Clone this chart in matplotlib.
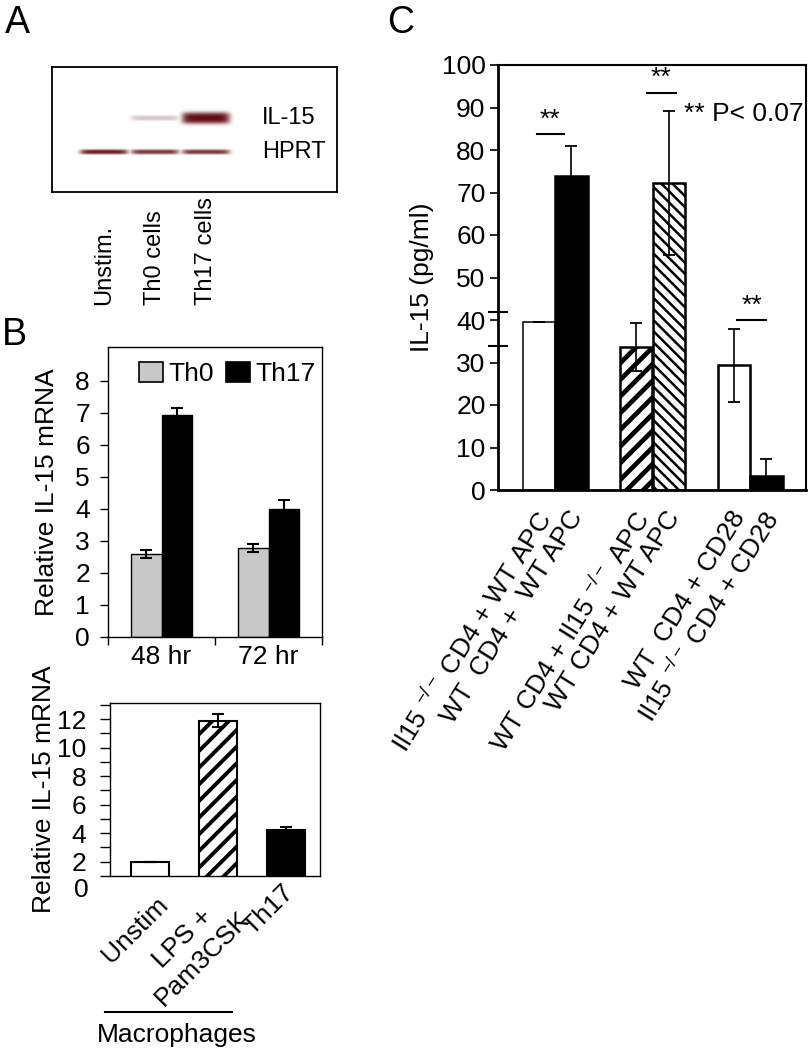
import numpy as np
import matplotlib
matplotlib.use("Agg")
import matplotlib.pyplot as plt
from matplotlib.patches import Patch
from matplotlib.lines import Line2D
from matplotlib.transforms import blended_transform_factory, ScaledTranslation

plt.rcParams['font.family'] = ['Liberation Sans', 'DejaVu Sans']
plt.rcParams['mathtext.fontset'] = 'custom'
plt.rcParams['mathtext.rm'] = 'Liberation Sans'
plt.rcParams['mathtext.it'] = 'Liberation Sans'
plt.rcParams['mathtext.bf'] = 'Liberation Sans'

# ---------------- data ----------------
# Panel A (gel): relative band intensities per lane
lanes = ["Unstim.", "Th0 cells", "Th17 cells"]
band_rows = ["IL-15", "HPRT"]
il15_band = [0.0, 0.22, 1.0]
hprt_band = [0.85, 0.75, 0.75]

# Panel B top
timepoints = ["48 hr", "72 hr"]
th0_mean = [2.58, 2.78]
th0_err = [0.12, 0.12]
th17_mean = [6.94, 4.0]
th17_err = [0.2, 0.28]

# Panel B bottom
mac_labels = ["Unstim", "LPS +\nPam3CSK", "Th17"]
mac_mean = [2.0, 11.9, 4.2]
mac_err = [0.0, 0.45, 0.25]

# Panel C
conditions = [r"Il15 $^{\mathregular{-/-}}$ CD4 + WT APC",
              "WT  CD4 +  WT APC",
              r"WT CD4 + Il15 $^{\mathregular{-/-}}$ APC",
              "WT CD4 + WT APC",
              "WT  CD4 + CD28",
              r"Il15 $^{\mathregular{-/-}}$ CD4 + CD28"]
il15_mean = [39.5, 74.0, 33.7, 72.2, 29.3, 3.4]
il15_err = [0.0, 6.9, 5.6, 17.0, 8.5, 3.9]
sig_x0 = [-0.185, 0.94, 1.87]
sig_x1 = [0.09, 1.24, 2.16]
sig_y = [83.7, 93.5, 40.0]

# ---------------- figure ----------------
W, H = 808, 1050
fig = plt.figure(figsize=(W / 100, H / 100), dpi=100)
FS = 19


def add_ax(l, t, r, b):
    return fig.add_axes([l / W, 1 - b / H, (r - l) / W, (b - t) / H])


def set_hlw(patch, lw):
    if hasattr(patch, "set_hatch_linewidth"):
        patch.set_hatch_linewidth(lw)


# panel letters
fig.text(5 / W, 1 - 33 / H, "A", fontsize=27, va="baseline")
fig.text(2 / W, 1 - 345 / H, "B", fontsize=27, va="baseline")
fig.text(387 / W, 1 - 33 / H, "C", fontsize=27, va="baseline")

# ---------------- Panel A ----------------
axA = add_ax(52, 67, 337, 192)
x0, x1 = -1.02, 4.57
y0, y1 = -1.5, 2.18
xs = np.linspace(x0, x1, 900)
ys = np.linspace(y0, y1, 400)
XX, YY = np.meshgrid(xs, ys)
alpha = np.zeros_like(XX)
for r, row in enumerate([il15_band, hprt_band]):
    for i, inten in enumerate(row):
        if inten <= 0:
            continue
        h = (0.05 + 0.12 * inten) if r == 0 else 0.07
        prof = np.exp(-(np.abs(XX - i) / 0.47) ** 8) * np.exp(-(np.abs(YY - r) / h) ** 3)
        alpha = np.maximum(alpha, min(1.0, inten * 1.1) * prof)
img = np.ones(XX.shape + (4,))
img[..., 0] = 0.38
img[..., 1] = 0.05
img[..., 2] = 0.06
img[..., 3] = np.clip(alpha, 0, 1)
axA.imshow(img, extent=(x0, x1, y1, y0), aspect="auto", interpolation="bilinear")
axA.set_xlim(x0, x1)
axA.set_ylim(y1, y0)
axA.set_xticks([])
axA.set_yticks([])
for s in axA.spines.values():
    s.set_linewidth(1.3)
for r, name in enumerate(band_rows):
    axA.text(3.1, r, name, fontsize=17, ha="left", va="center")
trA = blended_transform_factory(axA.transData, fig.transFigure)
for i, name in enumerate(lanes):
    axA.text(i, 1 - 305 / H, name, transform=trA, rotation=90, ha="center",
             va="bottom", fontsize=17)

# ---------------- Panel B top ----------------
axB1 = add_ax(108, 347, 322, 637)
xb = np.arange(len(timepoints))
w = 0.285
axB1.bar(xb - w / 2, th0_mean, w, color="#c8c8c8", edgecolor="black", linewidth=1.0, zorder=2)
axB1.bar(xb + w / 2, th17_mean, w, color="black", edgecolor="black", linewidth=1.0, zorder=2)
axB1.errorbar(xb - w / 2, th0_mean, yerr=th0_err, fmt="none", ecolor="black",
              elinewidth=1.5, capsize=4.3, capthick=1.5, zorder=3)
axB1.errorbar(xb + w / 2, th17_mean, yerr=th17_err, fmt="none", ecolor="black",
              elinewidth=1.5, capsize=4.3, capthick=1.5, zorder=3)
axB1.set_xlim(-0.495, 1.47)
axB1.set_ylim(0, 9.05)
axB1.set_yticks(range(0, 9))
axB1.tick_params(axis="y", labelsize=FS, length=6, width=1, pad=7)
axB1.set_xticks(xb)
axB1.set_xticklabels(timepoints, fontsize=FS)
axB1.set_xticks([-0.5, 0.5, 1.5], minor=True)
axB1.tick_params(axis="x", which="major", length=0, pad=6)
axB1.tick_params(axis="x", which="minor", length=6, width=1)
for s in axB1.spines.values():
    s.set_linewidth(1.0)
axB1.set_ylabel("Relative IL-15 mRNA", fontsize=FS, va="center")
axB1.yaxis.set_label_coords((47 - 108) / 214, 0.5)
hB = [Patch(facecolor="#c8c8c8", edgecolor="black", linewidth=1.2),
      Patch(facecolor="black", edgecolor="black", linewidth=1.2)]
axB1.legend(hB, ["Th0", "Th17"], ncol=2, loc="upper left",
            bbox_to_anchor=((139 - 108) / 214, 1 - (362 - 347) / 290),
            frameon=False, fontsize=FS, handlelength=0.91, handleheight=0.76,
            handletextpad=0.2, columnspacing=0.45, borderpad=0, borderaxespad=0)

# ---------------- Panel B bottom ----------------
axB2 = add_ax(110, 703, 320, 876)
xm = np.arange(len(mac_labels))
mac_face = ["white", "white", "black"]
mac_hatch = [None, "//", None]
barsm = axB2.bar(xm, mac_mean, 0.56, color=mac_face, edgecolor="black", linewidth=1.5, zorder=2)
for b, hch in zip(barsm, mac_hatch):
    if hch:
        b.set_hatch(hch)
        set_hlw(b, 2.8)
axB2.errorbar(xm, mac_mean, yerr=mac_err, fmt="none", ecolor="black",
              elinewidth=1.5, capsize=4.3, capthick=1.5, zorder=3)
axB2.set_xlim(-0.588, 2.5)
axB2.set_ylim(1, 13.14)
axB2.set_yticks(range(2, 13, 2))
axB2.set_yticks(range(1, 14, 2), minor=True)
axB2.tick_params(axis="y", which="both", labelsize=FS, length=7, width=1, pad=10)
trB2 = blended_transform_factory(axB2.transAxes, axB2.transData)
axB2.text(-0.1, 0, "0", transform=trB2, fontsize=FS, ha="right", va="center")
axB2.set_xticks(xm)
axB2.set_xticklabels(mac_labels, fontsize=FS, rotation=45, ha="right", va="top",
                     rotation_mode="anchor", multialignment="center")
axB2.tick_params(axis="x", length=0, pad=12)
lab_shift = [(6, 0), (0, 6), (-4, 13)]
for lab, (dx, dy) in zip(axB2.get_xticklabels(), lab_shift):
    lab.set_transform(lab.get_transform() +
                      ScaledTranslation(dx / 100, dy / 100, fig.dpi_scale_trans))
for s in axB2.spines.values():
    s.set_linewidth(1.0)
axB2.set_ylabel("Relative IL-15 mRNA", fontsize=FS, va="center")
axB2.yaxis.set_label_coords((44 - 110) / 210, 0.5)
fig.add_artist(Line2D([105 / W, 232 / W], [1 - 1012 / H] * 2, color="black", lw=1.5))
fig.text(177 / W, 1 - 1035 / H, "Macrophages", ha="center", va="center", fontsize=FS)

# ---------------- Panel C ----------------
axC = add_ax(498, 65, 806, 490)
groups = np.arange(3)
xc = np.array([g + o for g in groups for o in (-0.167, 0.167)])
c_face = ["white", "black", "white", "white", "white", "black"]
c_hatch = [None, None, "//", "\\\\\\", None, None]
c_hlw = [0, 0, 3.4, 1.8, 0, 0]
c_lw = [1.1, 1.8, 1.8, 1.8, 1.8, 1.8]
barsC = axC.bar(xc, il15_mean, 0.333, color=c_face, edgecolor="black", zorder=2)
for b, hch, hl, lw in zip(barsC, c_hatch, c_hlw, c_lw):
    b.set_linewidth(lw)
    if hch:
        b.set_hatch(hch)
        set_hlw(b, hl)
axC.errorbar(xc, il15_mean, yerr=il15_err, fmt="none", ecolor="black",
             elinewidth=1.2, capsize=4, capthick=1.3, zorder=3)
for a, bb, yy in zip(sig_x0, sig_x1, sig_y):
    axC.plot([a, bb], [yy, yy], color="black", lw=1.5)
    axC.text((a + bb) / 2, yy + 0.6, "**", ha="center", va="bottom", fontsize=FS)
axC.text(1.32, 88.5, "** P< 0.07", ha="left", va="center", fontsize=FS)
axC.set_xlim(-0.585, 2.574)
axC.set_ylim(0, 100)
axC.set_yticks(range(0, 101, 10))
axC.set_yticks([42, 34], minor=True)
axC.tick_params(axis="y", which="major", labelsize=FS, length=6, width=1.2, pad=3)
axC.tick_params(axis="y", which="minor", direction="inout", length=14, width=1.5)
axC.set_xticks(xc)
axC.set_xticklabels(conditions, fontsize=FS, rotation=58, ha="right", va="top",
                    rotation_mode="anchor")
axC.tick_params(axis="x", length=0, pad=12)
offC = ScaledTranslation(-4 / 100, 0, fig.dpi_scale_trans)
for lab in axC.get_xticklabels():
    lab.set_transform(lab.get_transform() + offC)
axC.spines["left"].set_linewidth(2.0)
axC.spines["bottom"].set_linewidth(2.0)
axC.spines["top"].set_linewidth(1.5)
axC.spines["right"].set_linewidth(1.5)
axC.set_ylabel("IL-15 (pg/ml)", fontsize=FS, va="center")
axC.yaxis.set_label_coords((422 - 498) / 308, 0.5)

fig.savefig("out.png", dpi=100)
